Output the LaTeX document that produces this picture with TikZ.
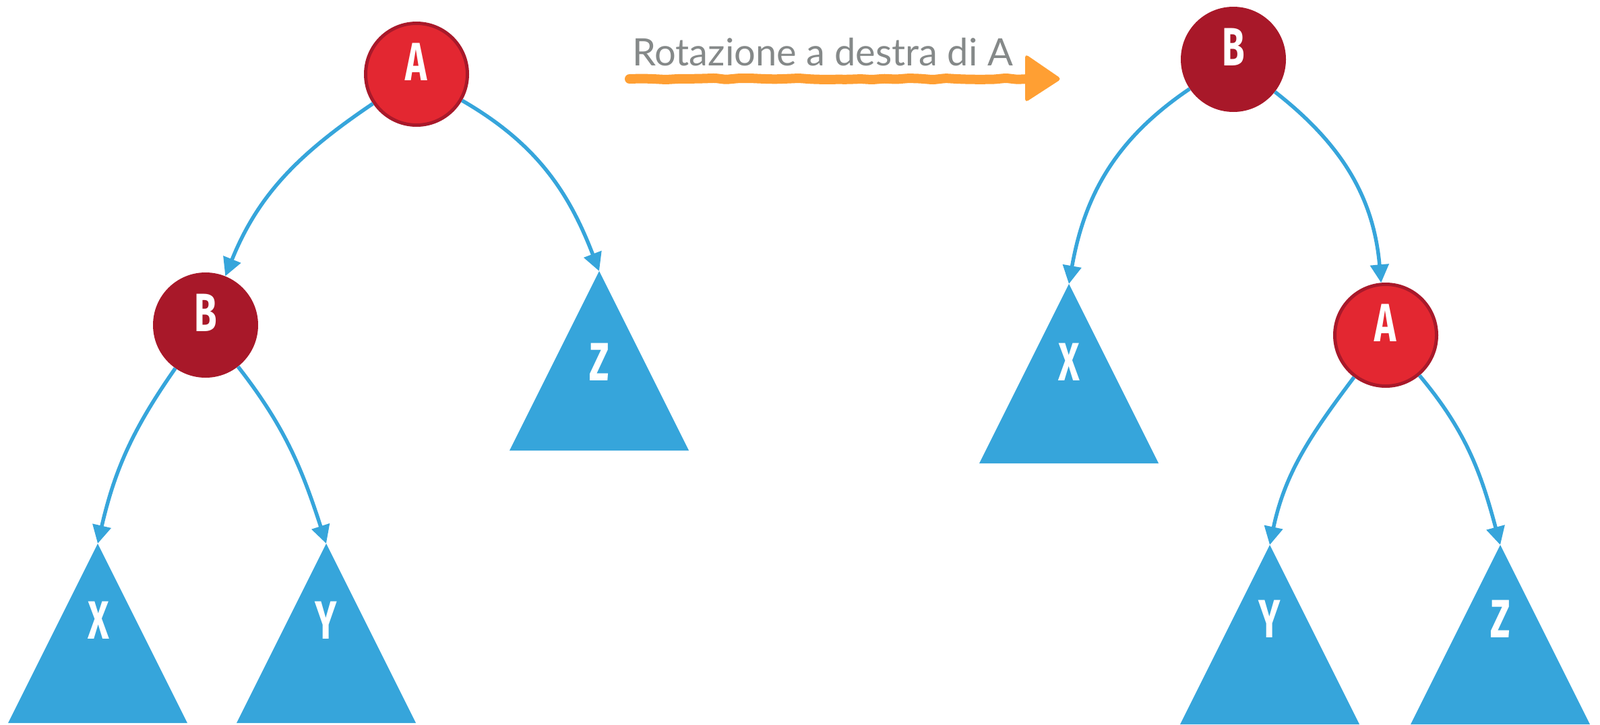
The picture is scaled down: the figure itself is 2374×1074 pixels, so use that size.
\documentclass[tikz,border=0pt]{standalone}
\usepackage{graphicx}
\usepackage{fontspec}
\setmainfont{Lato}
\newfontfamily\lettrfont{Fira Sans}
\usetikzlibrary{arrows.meta,decorations.pathmorphing}
\definecolor{redA}{RGB}{227,39,49}
\definecolor{redAb}{RGB}{168,25,42}
\definecolor{redB}{RGB}{168,24,41}
\definecolor{bluE}{RGB}{54,165,219}
\definecolor{orng}{RGB}{255,159,51}
\definecolor{grayT}{RGB}{133,137,137}
\newcommand{\cond}[1]{\scalebox{0.68}[1]{#1}}
\tikzset{
  nodeA/.style={circle, fill=redA, draw=redAb, line width=5pt, minimum size=151pt, inner sep=0pt,
    label={[lettr,yshift=18pt]center:\cond{A}}},
  nodeB/.style={circle, fill=redB, minimum size=156pt, inner sep=0pt,
    label={[lettr,yshift=18pt]center:\cond{B}}},
  lettr/.style={text=white, font=\lettrfont\bfseries\fontsize{80}{80}\selectfont, inner sep=0pt},
  trifill/.style={fill=bluE},
  edge/.style={draw=bluE, line width=5.5pt, -{Triangle[length=27pt,width=27pt]}},
  orangeline/.style={draw=orng, line width=14pt, line cap=round,
    decorate, decoration={random steps, segment length=18pt, amplitude=1.2pt}, rounded corners=3pt},
}
\begin{document}
\begin{tikzpicture}[x=1pt,y=1pt]
\useasboundingbox (0,0) rectangle (2374,-1074);

% ---------- left tree ----------
\coordinate (Zl) at (889,-402);
\coordinate (Xl) at (145,-806);
\coordinate (Yl) at (484,-806);
\fill[trifill] (Zl) -- ++(-133,-266) -- ++(266,0) -- cycle;
\fill[trifill] (Xl) -- ++(-133,-266) -- ++(266,0) -- cycle;
\fill[trifill] (Yl) -- ++(-133,-266) -- ++(266,0) -- cycle;
\node[lettr] (zl) at (889,-537) {\cond{Z}};
\node[lettr] (xl) at (146,-920) {\cond{X}};
\node[lettr] (yl) at (484,-920) {\cond{Y}};

\node[nodeA] (A) at (618,-110) {};
\node[nodeB] (B) at (305,-482) {};

\draw[edge] (A) to[out=214,in=68] (B);
\draw[edge] (A) to[out=-30,in=111] (Zl);
\draw[edge] (B) to[out=235,in=77] (Xl);
\draw[edge] (B) to[out=-52,in=108] (Yl);

% ---------- right tree ----------
\coordinate (Xr) at (1586,-421);
\coordinate (Yr) at (1884,-808);
\coordinate (Zr) at (2226,-808);
\fill[trifill] (Xr) -- ++(-133,-266) -- ++(266,0) -- cycle;
\fill[trifill] (Yr) -- ++(-133,-266) -- ++(266,0) -- cycle;
\fill[trifill] (Zr) -- ++(-133,-266) -- ++(266,0) -- cycle;
\node[lettr] (xr) at (1586,-537) {\cond{X}};
\node[lettr] (yr) at (1884,-918) {\cond{Y}};
\node[lettr] (zr) at (2226,-918) {\cond{Z}};

\node[nodeB] (B2) at (1830,-88) {};
\node[nodeA] (A2) at (2056,-497) {};

\draw[edge] (B2) to[out=214,in=80] (Xr);
\draw[edge] (B2) to[out=-38,in=95] (A2);
\draw[edge] (A2) to[out=233,in=78] (Yr);
\draw[edge] (A2) to[out=-50,in=105] (Zr);

% ---------- rotation label ----------
\node[anchor=base west, text=grayT, font=\fontsize{56}{56}\selectfont, inner sep=0pt] (lbl) at (938,-97) {Rotazione a destra di A};
\coordinate (rs) at (934,-117);
\coordinate (re) at (1526,-117);
\draw[orangeline] (rs) -- (re);
\fill[orng, rounded corners=5pt] (1521,-80) -- (1575,-117) -- (1521,-152) -- cycle;
\end{tikzpicture}
\end{document}
